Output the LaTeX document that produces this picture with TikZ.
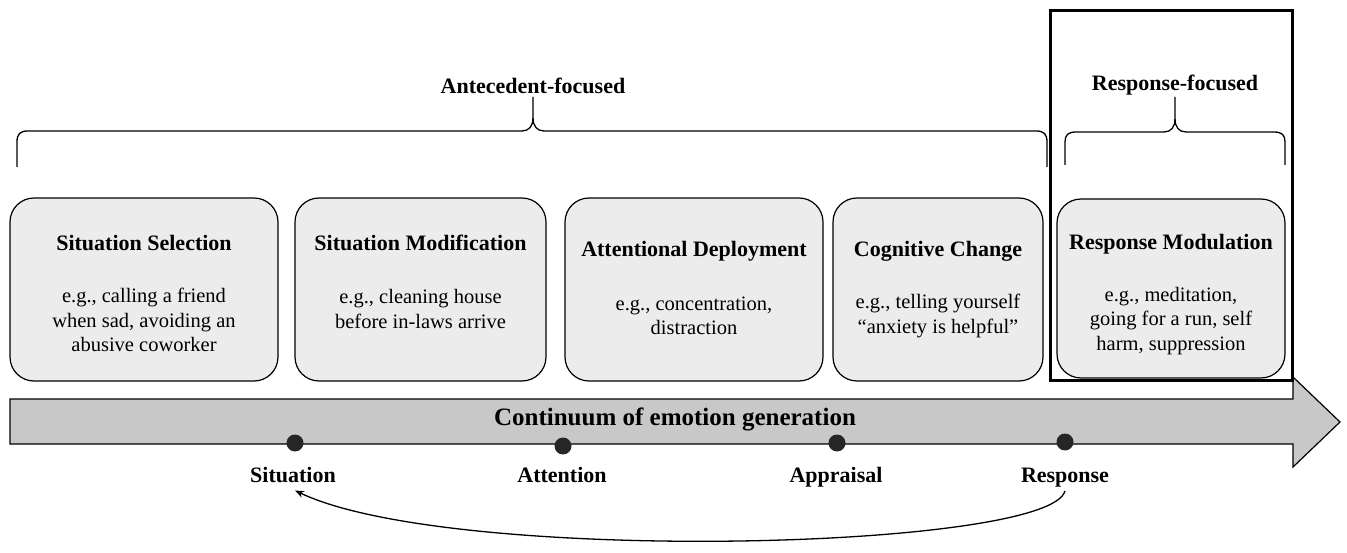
\documentclass[tikz,border=0pt]{standalone}
\usepackage{fontspec}
\setmainfont{Liberation Serif}
\usetikzlibrary{arrows.meta}
\definecolor{boxfill}{RGB}{236,236,236}
\definecolor{arrowfill}{RGB}{200,200,200}
\begin{document}
\begin{tikzpicture}[x=1pt,y=-1pt,
  stage/.style={draw, line width=1.2pt, rounded corners=24pt, fill=boxfill, inner sep=0pt},
  ttl/.style={font=\fontsize{22}{25}\selectfont\bfseries, inner sep=0pt},
  body/.style={font=\fontsize{20.5}{24.5}\selectfont, align=center, inner sep=0pt},
  lbl/.style={font=\fontsize{22}{25}\selectfont\bfseries, inner sep=0pt, anchor=base},
  bracepath/.style={line width=1.3pt},
  dotmark/.style={circle, fill=black!85, minimum size=17pt, inner sep=0pt}
]
\useasboundingbox (0,0) rectangle (1347,553);

% braces
\draw[bracepath] (17,167) -- (17,142) .. controls (17,134) and (20,131) .. (28,131) -- (522,131)
  .. controls (529,131) and (533,126) .. (533,118) -- (533,97);
\draw[bracepath] (533,118) .. controls (533,126) and (537,131) .. (544,131) -- (1036,131)
  .. controls (1044,131) and (1047,134) .. (1047,142) -- (1047,167);
\node[ttl] (ante) at (533,86) {Antecedent-focused};

\draw[bracepath] (1065,165) -- (1065,142) .. controls (1065,135) and (1068,132) .. (1076,132) -- (1164,132)
  .. controls (1171,132) and (1175,127) .. (1175,119) -- (1175,97);
\draw[bracepath] (1175,119) .. controls (1175,127) and (1179,132) .. (1186,132) -- (1274,132)
  .. controls (1282,132) and (1285,135) .. (1285,142) -- (1285,165);
\node[ttl] (resp) at (1175,85) {Response-focused};

% stage boxes
\node[stage, minimum width=268pt, minimum height=183pt] (b1) at (144,289.5) {};
\node[stage, minimum width=251pt, minimum height=183pt] (b2) at (420.5,289.5) {};
\node[stage, minimum width=258pt, minimum height=183pt] (b3) at (694,289.5) {};
\node[stage, minimum width=210pt, minimum height=183pt] (b4) at (938,289.5) {};
\node[stage, minimum width=228pt, minimum height=179pt] (b5) at (1171,288.5) {};

\node[ttl] (t1) at (144,243) {Situation Selection};
\node[ttl] (t2) at (420.5,243) {Situation Modification};
\node[ttl] (t3) at (694,251) {Attentional Deployment};
\node[ttl] (t4) at (938,251) {Cognitive Change};
\node[ttl] (t5) at (1171,244) {Response Modulation};

\node[body] (d1) at (144,320) {e.g., calling a friend\\when sad, avoiding an\\abusive coworker};
\node[body] (d2) at (420.5,309) {e.g., cleaning house\\before in-laws arrive};
\node[body] (d3) at (694,316) {e.g., concentration,\\distraction};
\node[body] (d4) at (938,316) {e.g., telling yourself\\“anxiety is helpful”};
\node[body] (d5) at (1171,321) {e.g., meditation,\\going for a run, self\\harm, suppression};

% continuum arrow
\draw[line width=1.2pt, fill=arrowfill] (10,399) -- (1293,399) -- (1293,377) -- (1340,422)
  -- (1293,467) -- (1293,444) -- (10,444) -- cycle;
\node[font=\fontsize{25}{28}\selectfont\bfseries, inner sep=0pt] (cont) at (675,419) {Continuum of emotion generation};

% response-focused frame
\node[draw, line width=3pt, minimum width=242pt, minimum height=369pt, inner sep=0pt] (rf) at (1171,195.5) {};

% points
\node[dotmark] (p1) at (295,443) {};
\node[dotmark] (p2) at (563,446) {};
\node[dotmark] (p3) at (837,443) {};
\node[dotmark] (p4) at (1065,442) {};

\node[lbl] (l1) at (293,482) {Situation};
\node[lbl] (l2) at (562,482) {Attention};
\node[lbl] (l3) at (836,482) {Appraisal};
\node[lbl] (l4) at (1065,482) {Response};

\draw[line width=1.3pt, -{Stealth[length=9pt,width=7pt]}] ([yshift=-4pt]l4.south)
  .. controls (1050,550) and (450,565) .. ([xshift=2pt,yshift=-8pt]l1.south);
\end{tikzpicture}
\end{document}
